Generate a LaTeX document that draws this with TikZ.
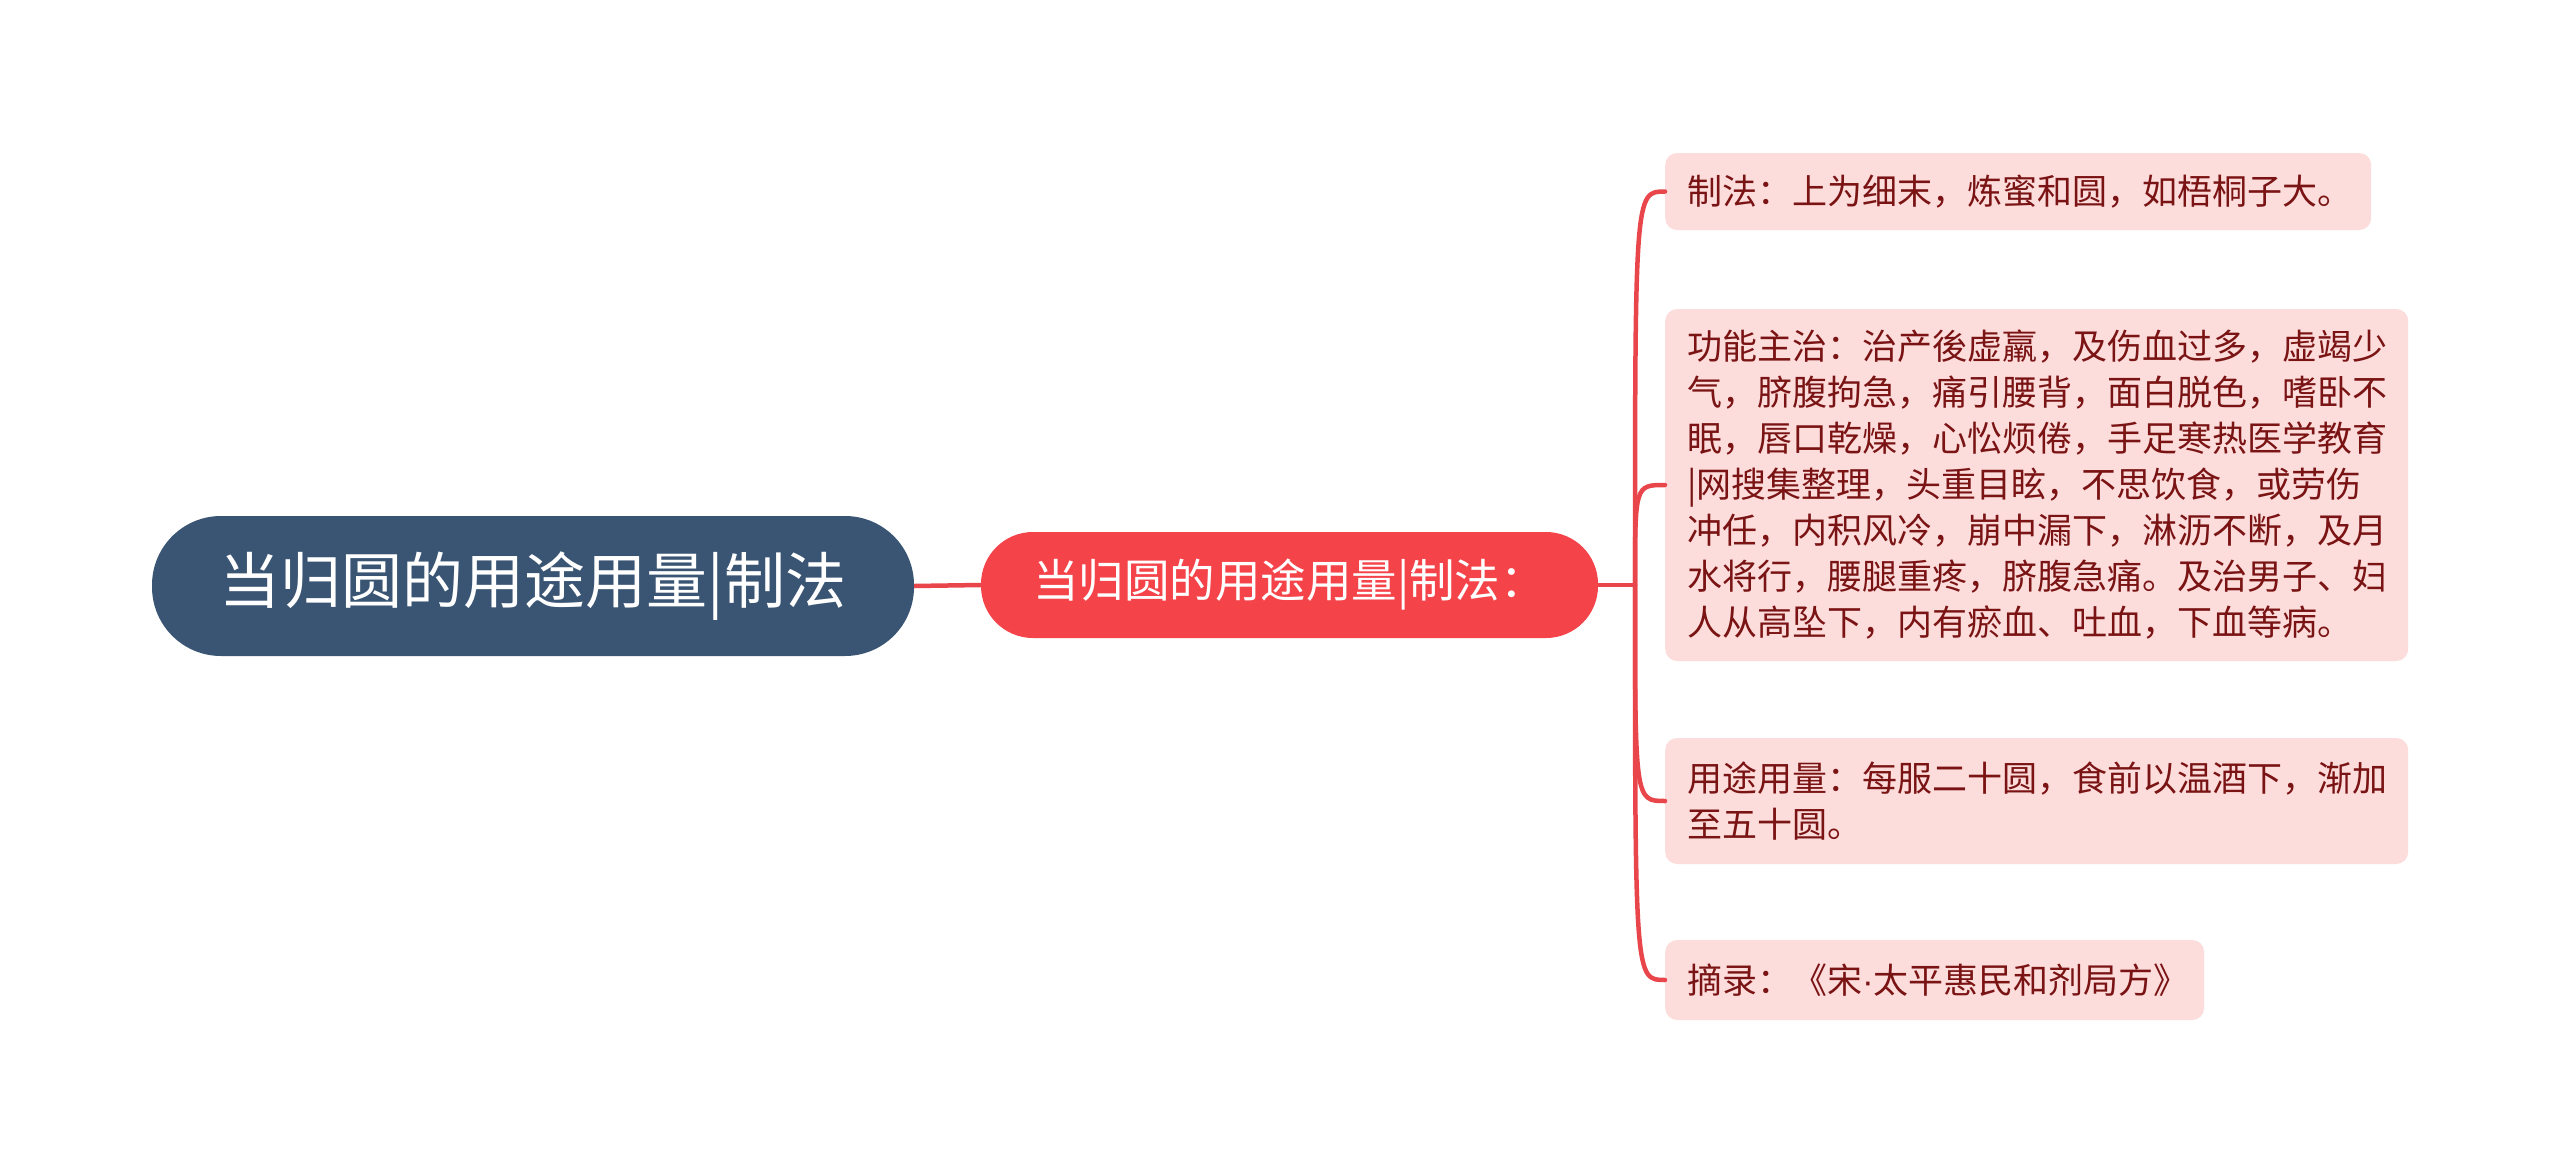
\documentclass[tikz,border=0pt]{standalone}
\usepackage{fontspec}
\setmainfont{Noto Sans CJK SC}
\newfontfamily\latinfont{Liberation Sans}
\usetikzlibrary{calc}
\definecolor{rootc}{HTML}{3A5573}
\definecolor{midc}{HTML}{F5434A}
\definecolor{leaffill}{HTML}{FDDCDC}
\definecolor{leaftext}{HTML}{7A1414}
\definecolor{linec}{HTML}{E8464B}
\begin{document}
\begin{tikzpicture}[x=1pt,y=-1pt,
  rootbox/.style={fill=rootc, text=white, rounded corners=69pt, minimum width=762pt, minimum height=140pt, inner sep=0pt, font=\fontsize{61}{72}\selectfont},
  midbox/.style={fill=midc, text=white, rounded corners=52pt, minimum width=617pt, minimum height=106pt, inner sep=0pt, font=\fontsize{45.5}{54}\selectfont},
  leafbox/.style={fill=leaffill, text=leaftext, rounded corners=12pt, inner xsep=22pt, inner ysep=0pt, align=left, anchor=west, font=\fontsize{35}{46}\selectfont},
  link/.style={draw=linec, line width=4.5pt}]
\path[use as bounding box, fill=white] (0,0) rectangle (2560,1172);

\node[rootbox] (root) at (533,586) {当归圆的用途用量|制法};
\node[midbox] (mid) at (1289.5,585) {当归圆的用途用量|制法：};

\node[leafbox, text width=662pt, minimum height=77pt] (l1) at (1665,191.5) {制法：上为细末，炼蜜和圆，如梧桐子大。};
\node[leafbox, text width=699pt, minimum height=352pt] (l2) at (1665,485) {功能主治：治产後虚羸，及伤血过多，虚竭少\\气，脐腹拘急，痛引腰背，面白脱色，嗜卧不\\眠，唇口乾燥，心忪烦倦，手足寒热医学教育\\|网搜集整理，头重目眩，不思饮食，或劳伤\\冲任，内积风冷，崩中漏下，淋沥不断，及月\\水将行，腰腿重疼，脐腹急痛。及治男子、妇\\人从高坠下，内有瘀血、吐血，下血等病。};
\node[leafbox, text width=699pt, minimum height=126pt] (l3) at (1665,801) {用途用量：每服二十圆，食前以温酒下，渐加\\至五十圆。};
\node[leafbox, text width=495pt, minimum height=80pt] (l4) at (1665,980) {摘录：《宋{\latinfont ·}太平惠民和剂局方》};

\coordinate (j) at (1635,585);
\draw[link] (root.east) -- (mid.west);
\draw[link] (mid.east) -- (j);
\foreach \l in {l1,l2,l3,l4}{
  \draw[link, line cap=round] (j) .. controls (j |- \l.west) .. (\l.west);
}
\end{tikzpicture}
\end{document}
